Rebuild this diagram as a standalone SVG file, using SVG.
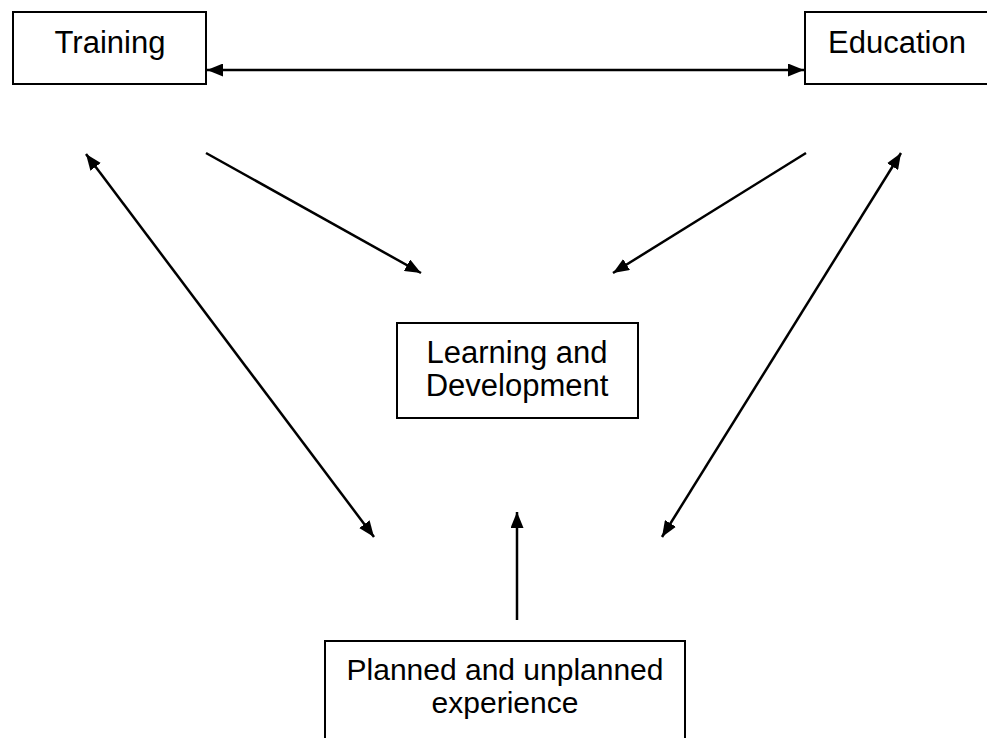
<svg xmlns="http://www.w3.org/2000/svg" width="987" height="738" viewBox="0 0 987 738">
<defs>
<marker id="ah" viewBox="0 0 16 13" refX="16" refY="6.5" markerWidth="16" markerHeight="13" markerUnits="userSpaceOnUse" orient="auto-start-reverse">
<path d="M0,0 L16,6.5 L0,13 Z" fill="#000"/>
</marker>
</defs>
<style>
.box{fill:#fff;stroke:#000;stroke-width:2}
.t{font-family:"Liberation Sans",Arial,sans-serif;font-size:31px;fill:#000;text-anchor:middle}
.c{stroke:#000;stroke-width:2.5;fill:none}
</style>
<g id="connectors">
<line class="c" x1="207" y1="70" x2="804" y2="70" marker-start="url(#ah)" marker-end="url(#ah)"/>
<line class="c" x1="206" y1="153" x2="421" y2="273" marker-end="url(#ah)"/>
<line class="c" x1="806" y1="153" x2="613" y2="273" marker-end="url(#ah)"/>
<line class="c" x1="86" y1="154" x2="374" y2="537" marker-start="url(#ah)" marker-end="url(#ah)"/>
<line class="c" x1="901" y1="153" x2="662" y2="537" marker-start="url(#ah)" marker-end="url(#ah)"/>
<line class="c" x1="517" y1="620" x2="517" y2="512" marker-end="url(#ah)"/>
</g>
<g id="training">
<rect class="box" x="13" y="12" width="193" height="72"/>
<text class="t" x="110" y="53">Training</text>
</g>
<g id="education">
<rect class="box" x="805" y="12" width="190" height="72"/>
<text class="t" x="897" y="53">Education</text>
</g>
<g id="learning">
<rect class="box" x="397" y="323" width="241" height="95"/>
<text class="t" x="517" y="363">Learning and</text>
<text class="t" x="517" y="396">Development</text>
</g>
<g id="experience">
<rect class="box" x="325" y="641" width="360" height="110"/>
<text class="t" x="505" y="680" style="font-size:30px">Planned and unplanned</text>
<text class="t" x="505" y="713" style="font-size:30px">experience</text>
</g>
</svg>
